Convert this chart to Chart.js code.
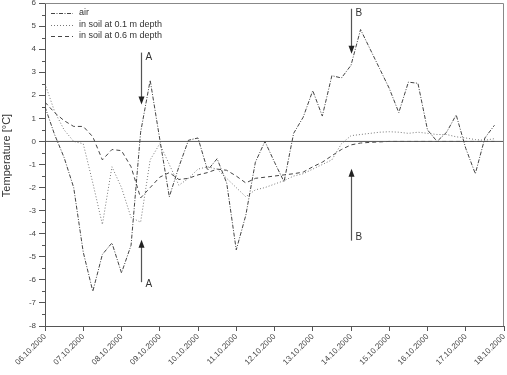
<!DOCTYPE html>
<html>
<head>
<meta charset="utf-8">
<script src="https://cdn.jsdelivr.net/npm/chart.js@4.4.1/dist/chart.umd.min.js"></script>
<style>
  html, body { margin: 0; padding: 0; background: #fff; }
  #wrap { width: 507px; height: 375px; }
</style>
</head>
<body>
<div id="wrap"><canvas id="chart" width="507" height="375"></canvas></div>
<script>
// x axis: days since 06.10.2000, samples every 6 h
const dateLabels = ["06.10.2000", "07.10.2000", "08.10.2000", "09.10.2000", "10.10.2000",
  "11.10.2000", "12.10.2000", "13.10.2000", "14.10.2000", "15.10.2000", "16.10.2000",
  "17.10.2000", "18.10.2000"];
const sampleStep = 0.25;

const airTemp = [1.5, 0.3, -0.7, -2.0, -4.8, -6.5, -4.9, -4.4, -5.7, -4.5, 0.4, 2.65,
  0.1, -2.4, -1.1, 0.05, 0.15, -1.25, -0.75, -1.8, -4.7, -3.2, -0.9, 0.0,
  -0.9, -1.75, 0.35, 1.05, 2.2, 1.1, 2.85, 2.75, 3.3, 4.85, 4.0, 3.15,
  2.3, 1.25, 2.57, 2.52, 0.5, 0.0, 0.4, 1.15, -0.3, -1.4, 0.15, 0.7];

const soil01Temp = [2.5, 1.3, 0.5, 0.0, -0.1, -1.8, -3.6, -1.1, -2.0, -3.3, -3.5, -0.8,
  -0.1, -1.0, -1.9, -1.6, -1.2, -1.1, -1.2, -1.6, -2.0, -2.4, -2.1, -2.0,
  -1.85, -1.7, -1.5, -1.4, -1.2, -1.0, -0.8, -0.1, 0.25, 0.3, 0.35, 0.4,
  0.42, 0.4, 0.35, 0.4, 0.35, 0.3, 0.3, 0.2, 0.15, 0.08, 0.05, 0.12];

const soil06Temp = [1.7, 1.25, 0.9, 0.65, 0.65, 0.2, -0.8, -0.35, -0.4, -1.1, -2.45, -2.0,
  -1.55, -1.35, -1.65, -1.6, -1.45, -1.35, -1.2, -1.25, -1.5, -1.8, -1.6, -1.55,
  -1.5, -1.45, -1.4, -1.33, -1.1, -0.9, -0.62, -0.35, -0.15, -0.07, -0.04, -0.02,
  0.0, 0.0, 0.0, 0.0, 0.0, 0.0, 0.0, 0.0, 0.0, 0.0, 0.0, 0.0];

// marker arrows (data units): day, start value, tip value, label value
const arrowMarks = [
  { day: 2.5, from: 3.85, to: 1.6, labelAt: 3.64, text: "A" },
  { day: 2.5, from: -6.1, to: -4.26, labelAt: -6.2, text: "A" },
  { day: 8.0, from: 5.75, to: 3.8, labelAt: 5.55, text: "B" },
  { day: 8.0, from: -4.3, to: -1.18, labelAt: -4.16, text: "B" },
];

const yTitle = "Temperature [°C]";

const toPoints = (arr) => arr.map((v, i) => ({ x: i * sampleStep, y: v }));

const FONT = "'Liberation Sans', Arial, sans-serif";

const series = [
  { label: "air", data: toPoints(airTemp), borderColor: "#444", borderDash: [4, 1.5, 1, 1.5] },
  { label: "in soil at 0.1 m depth", data: toPoints(soil01Temp), borderColor: "#777", borderDash: [1, 2] },
  { label: "in soil at 0.6 m depth", data: toPoints(soil06Temp), borderColor: "#444", borderDash: [4, 3] },
];

const zeroLine = {
  label: "zero",
  data: [{ x: 0, y: 0 }, { x: dateLabels.length - 1, y: 0 }],
  borderColor: "#555",
  borderWidth: 1,
};

const decorPlugin = {
  id: "decor",
  afterDraw(chart) {
    const { ctx, chartArea: a, scales } = chart;
    const xs = scales.x, ys = scales.y;
    ctx.save();

    // top/right frame
    ctx.strokeStyle = "#888";
    ctx.lineWidth = 1;
    ctx.beginPath();
    ctx.moveTo(a.left, a.top + 0.5);
    ctx.lineTo(a.right - 0.5, a.top + 0.5);
    ctx.lineTo(a.right - 0.5, a.bottom);
    ctx.stroke();

    // minor y ticks
    ctx.strokeStyle = "#555";
    ctx.beginPath();
    for (let v = ys.min + 0.5; v < ys.max; v += 1) {
      const y = Math.round(ys.getPixelForValue(v)) + 0.5;
      ctx.moveTo(a.left - 3, y);
      ctx.lineTo(a.left, y);
    }
    ctx.stroke();

    // y title (sits a bit above centre, as in the original)
    ctx.save();
    ctx.translate(7, (a.top + a.bottom) / 2 - 9);
    ctx.rotate(-Math.PI / 2);
    ctx.font = "11px " + FONT;
    ctx.fillStyle = "#333";
    ctx.textAlign = "center";
    ctx.textBaseline = "middle";
    ctx.fillText(yTitle, 0, 0);
    ctx.restore();

    // arrows
    ctx.strokeStyle = "#555";
    ctx.fillStyle = "#222";
    ctx.font = "10px " + FONT;
    ctx.textBaseline = "middle";
    arrowMarks.forEach((m) => {
      const x = Math.round(xs.getPixelForValue(m.day)) + 0.5;
      const y0 = ys.getPixelForValue(m.from);
      const y1 = ys.getPixelForValue(m.to);
      const dir = y1 > y0 ? 1 : -1;
      ctx.lineWidth = 1.2;
      ctx.beginPath();
      ctx.moveTo(x, y0);
      ctx.lineTo(x, y1 - dir * 6);
      ctx.stroke();
      ctx.beginPath();
      ctx.moveTo(x, y1);
      ctx.lineTo(x - 3, y1 - dir * 8);
      ctx.lineTo(x + 3, y1 - dir * 8);
      ctx.closePath();
      ctx.fill();
      ctx.fillStyle = "#333";
      ctx.fillText(m.text, x + 4, ys.getPixelForValue(m.labelAt));
      ctx.fillStyle = "#222";
    });

    // legend
    ctx.font = "9px " + FONT;
    ctx.lineWidth = 1;
    series.forEach((s, i) => {
      const y = a.top + 10 + i * 11.5;
      ctx.strokeStyle = s.borderColor;
      ctx.setLineDash(s.borderDash);
      ctx.beginPath();
      ctx.moveTo(a.left + 6, Math.round(y) + 0.5);
      ctx.lineTo(a.left + 28, Math.round(y) + 0.5);
      ctx.stroke();
      ctx.setLineDash([]);
      ctx.fillStyle = "#333";
      ctx.fillText(s.label, a.left + 34, y);
    });
    ctx.restore();
  },
};

new Chart(document.getElementById("chart"), {
  type: "line",
  data: {
    datasets: [zeroLine, ...series.map((s) => ({
      label: s.label,
      data: s.data,
      borderColor: s.borderColor,
      borderDash: s.borderDash,
      borderWidth: 1,
    }))],
  },
  options: {
    responsive: false,
    animation: false,
    devicePixelRatio: 1,
    layout: { padding: { top: 3, right: 3, left: 0, bottom: 0 } },
    elements: { point: { radius: 0 }, line: { tension: 0 } },
    plugins: { legend: { display: false }, tooltip: { enabled: false } },
    scales: {
      x: {
        type: "linear",
        min: 0,
        max: dateLabels.length - 1,
        afterFit: (s) => { s.height = 49; s.paddingLeft = 0; s.paddingRight = 0; },
        ticks: {
          stepSize: 1,
          autoSkip: false,
          minRotation: 45,
          maxRotation: 45,
          padding: 1,
          color: "#444",
          font: { family: FONT, size: 8 },
          callback: (v) => dateLabels[v],
        },
        grid: { drawOnChartArea: false, tickLength: 5, color: "#555" },
        border: { color: "#555", width: 1 },
      },
      y: {
        min: -8,
        max: 6,
        afterFit: (s) => { s.width = 45; s.paddingTop = 0; s.paddingBottom = 0; },
        ticks: {
          stepSize: 1,
          padding: 3,
          color: "#444",
          font: { family: FONT, size: 8 },
        },
        grid: { drawOnChartArea: false, tickLength: 6, color: "#555" },
        border: { color: "#555", width: 1 },
      },
    },
  },
  plugins: [decorPlugin],
});
</script>
</body>
</html>
